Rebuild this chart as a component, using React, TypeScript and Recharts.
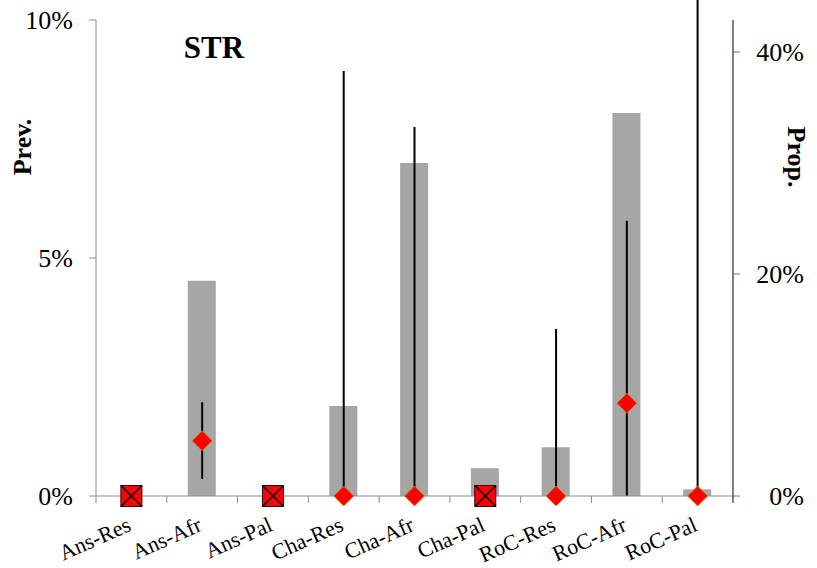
import React from "react";
import { ComposedChart, Bar, Line, XAxis, YAxis, ErrorBar } from "recharts";

// site-population categories
const categories = [
  "Ans-Res",
  "Ans-Afr",
  "Ans-Pal",
  "Cha-Res",
  "Cha-Afr",
  "Cha-Pal",
  "RoC-Res",
  "RoC-Afr",
  "RoC-Pal",
];
// grey bars, right axis (Prop.)
const proportion = [0, 0.194, 0, 0.081, 0.3, 0.025, 0.044, 0.345, 0.006];
// red diamonds, left axis (Prev.)
const prevalence = [0, 0.0116, 0, 0, 0, 0, 0, 0.0195, 0];
const ciLower = [0, 0.0036, 0, 0, 0, 0, 0, 0, 0];
const ciUpper = [0, 0.0197, 0, 0.0893, 0.0775, 0, 0.0351, 0.0578, 0.15];
// no sample -> crossed square
const noData = [true, false, true, false, false, true, false, false, false];

const leftTicks = [0, 0.05, 0.1];
const rightTicks = [0, 0.2, 0.4];

const FONT = "'Liberation Serif', 'Times New Roman', serif";
const AXIS_GREY = "#8c8c8c";

const data = categories.map((cat, i) => ({
  cat,
  prop: proportion[i],
  prev: prevalence[i],
  err: [prevalence[i] - ciLower[i], ciUpper[i] - prevalence[i]],
  nodata: noData[i],
}));

const pct = (v: number) => `${Math.round(v * 100)}%`;

const CatTick = (props: any) => {
  const { x, y, payload, index } = props;
  const half = payload.offset || 35.4;
  const tx = x + 1;
  const ty = y + 34;
  return (
    <g>
      <line x1={x - half} y1={y} x2={x - half} y2={y + 7} stroke={AXIS_GREY} />
      {index === categories.length - 1 && (
        <line x1={x + half} y1={y} x2={x + half} y2={y + 7} stroke="#000" />
      )}
      <text
        transform={`translate(${tx}, ${ty}) rotate(-24)`}
        textAnchor="end"
        fontFamily={FONT}
        fontSize={22}
        fill="#000"
      >
        {payload.value}
      </text>
    </g>
  );
};

const LeftTick = (props: any) => {
  const { y, payload } = props;
  return (
    <text x={73} y={y} dy="0.34em" textAnchor="end" fontFamily={FONT} fontSize={26} fill="#000">
      {pct(payload.value)}
    </text>
  );
};

const RightTick = (props: any) => {
  const { y, payload } = props;
  return (
    <text x={804} y={y} dy="0.34em" textAnchor="end" fontFamily={FONT} fontSize={26} fill="#000">
      {pct(payload.value)}
    </text>
  );
};

const Marker = (props: any) => {
  const { cx, cy, payload, index } = props;
  if (cx == null || cy == null) return <g key={`m-${index}`} />;
  if (payload.nodata) {
    const s = 10.5;
    return (
      <g key={`m-${index}`}>
        <rect x={cx - s} y={cy - s} width={2 * s} height={2 * s} fill="#ff0000" stroke="#3a0000" strokeWidth={1} />
        <line x1={cx - s} y1={cy - s} x2={cx + s} y2={cy + s} stroke="#000" strokeWidth={1.5} />
        <line x1={cx - s} y1={cy + s} x2={cx + s} y2={cy - s} stroke="#000" strokeWidth={1.5} />
      </g>
    );
  }
  const r = 10;
  return (
    <polygon
      key={`m-${index}`}
      points={`${cx},${cy - r} ${cx + r},${cy} ${cx},${cy + r} ${cx - r},${cy}`}
      fill="#ff0000"
      stroke="#c08a00"
      strokeWidth={0.8}
    />
  );
};

export default function App() {
  return (
    <div style={{ position: "absolute", left: 0, top: 0, width: 817, height: 568, background: "#fff" }}>
      <ComposedChart
        width={817}
        height={568}
        data={data}
        margin={{ top: 20, right: 0, bottom: 0, left: 0 }}
      >
        <XAxis
          dataKey="cat"
          xAxisId="x"
          height={72}
          tickLine={false}
          tickSize={0}
          tickMargin={0}
          interval={0}
          axisLine={{ stroke: AXIS_GREY }}
          tick={<CatTick />}
        />
        <YAxis
          yAxisId="left"
          width={96}
          domain={[0, 0.1]}
          ticks={leftTicks}
          tickSize={7}
          stroke={AXIS_GREY}
          tick={<LeftTick />}
        />
        <YAxis
          yAxisId="right"
          orientation="right"
          width={84}
          domain={[0, 0.4288]}
          ticks={rightTicks}
          tickSize={7}
          axisLine={{ stroke: "#000" }}
          tickLine={{ stroke: "#4a7ebb" }}
          tick={<RightTick />}
        />
        <YAxis yAxisId="clip" orientation="right" hide width={0} domain={[0, 0.1]} allowDataOverflow />
        <Bar
          xAxisId="x"
          yAxisId="right"
          dataKey="prop"
          fill="#a6a6a6"
          barSize={28}
          isAnimationActive={false}
        />
        <Line
          xAxisId="x"
          yAxisId="clip"
          dataKey="prev"
          stroke="none"
          dot={false}
          activeDot={false}
          isAnimationActive={false}
        >
          <ErrorBar dataKey="err" direction="y" width={0} stroke="#000" strokeWidth={2} />
        </Line>
        <Line
          xAxisId="x"
          yAxisId="left"
          dataKey="prev"
          stroke="none"
          dot={Marker}
          activeDot={false}
          isAnimationActive={false}
        />
      </ComposedChart>
      <svg
        width={817}
        height={568}
        style={{ position: "absolute", left: 0, top: 0, pointerEvents: "none" }}
      >
        <text x={214} y={58} textAnchor="middle" fontFamily={FONT} fontWeight="bold" fontSize={31}>
          STR
        </text>
        <text
          transform="translate(31,147) rotate(-90)"
          textAnchor="middle"
          fontFamily={FONT}
          fontWeight="bold"
          fontSize={26}
        >
          Prev.
        </text>
        <text
          transform="translate(788,157) rotate(90)"
          textAnchor="middle"
          fontFamily={FONT}
          fontWeight="bold"
          fontSize={26}
        >
          Prop.
        </text>
      </svg>
    </div>
  );
}
